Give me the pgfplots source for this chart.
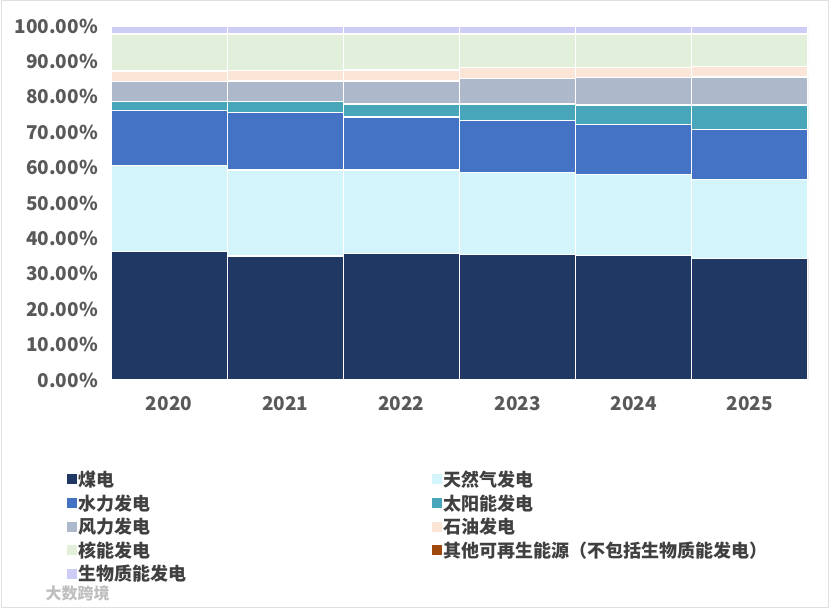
\documentclass[border=0pt]{standalone}
\usepackage{pgfplots}
\usepackage{pgfplotstable}
\pgfplotsset{compat=1.18}
\usepackage{fontspec}
\setmainfont{Noto Sans CJK SC}
\definecolor{coal}{HTML}{203864}
\definecolor{gas}{HTML}{D4F4FC}
\definecolor{hydro}{HTML}{4472C4}
\definecolor{solar}{HTML}{47A6BA}
\definecolor{wind}{HTML}{ADB9CA}
\definecolor{oil}{HTML}{FBE5D6}
\definecolor{nuclear}{HTML}{E2EFDA}
\definecolor{other}{HTML}{9E480E}
\definecolor{bio}{HTML}{CCCCF5}
\definecolor{lbl}{HTML}{595959}
\pgfplotstableread{
x coal gas hydro solar wind oil nuclear other bio
0 36.3 24.2 15.7 2.5 5.6 3.0 10.2 0.3 2.2
1 35.0 24.3 16.2 3.1 5.9 2.9 10.1 0.3 2.2
2 35.7 23.6 15.0 3.7 6.5 3.1 9.9 0.3 2.2
3 35.5 23.1 14.8 4.6 7.2 3.1 9.2 0.3 2.2
4 35.1 23.0 14.0 5.6 7.8 2.8 9.2 0.3 2.2
5 34.3 22.4 14.1 6.9 7.9 2.9 9.1 0.3 2.1
}\data
\begin{document}
\begin{tikzpicture}
\path[use as bounding box] (0,0) rectangle (832pt,608pt);
\draw[black!12, line width=1pt] (1pt,1pt) rectangle (828pt,607pt);
\begin{axis}[
  at={(111pt,228pt)}, anchor=south west,
  scale only axis, width=697pt, height=354pt,
  ybar stacked, bar width=1,
  xmin=-0.5, xmax=5.5, ymin=0, ymax=100,
  xtick={0,...,5}, xticklabels={2020,2021,2022,2023,2024,2025},
  ytick={0,10,...,100},
  yticklabel={\pgfmathprintnumber[fixed,fixed zerofill,precision=2]{\tick}\%},
  /pgf/number format/assume math mode=true,
  axis line style={draw=none}, major tick length=0pt,
  tick label style={font=\fontsize{19}{22}\selectfont\bfseries, text=lbl},
  yticklabel style={inner sep=0pt, xshift=-13pt},
  xticklabel style={inner sep=0pt, yshift=-16pt},
  every axis plot/.append style={draw=white, line width=1.3pt},
  legend columns=2,
  legend cell align=left,
  legend image code/.code={\fill[#1, draw=none] (0pt,-5pt) rectangle (10pt,5pt);},
  legend style={at={(-0.068,-0.245)}, anchor=north west, draw=none, fill=none,
    font=\fontsize{18}{22}\selectfont\bfseries, text=black!75,
    row sep=2.5pt,
    /tikz/every even column/.append style={column sep=243pt},
    nodes={inner sep=2pt}},
]
\addplot[fill=coal] table[x=x,y=coal]{\data};
\addplot[fill=gas] table[x=x,y=gas]{\data};
\addplot[fill=hydro] table[x=x,y=hydro]{\data};
\addplot[fill=solar] table[x=x,y=solar]{\data};
\addplot[fill=wind] table[x=x,y=wind]{\data};
\addplot[fill=oil] table[x=x,y=oil]{\data};
\addplot[fill=nuclear] table[x=x,y=nuclear]{\data};
\addplot[fill=other] table[x=x,y=other]{\data};
\addplot[fill=bio] table[x=x,y=bio]{\data};
\legend{煤电,天然气发电,水力发电,太阳能发电,风力发电,石油发电,核能发电,其他可再生能源（不包括生物质能发电）,生物质能发电}
\end{axis}
\node[anchor=west, text=black!25, font=\fontsize{16}{18}\selectfont\bfseries] at (42pt,15pt) {大数跨境};
\end{tikzpicture}
\end{document}
